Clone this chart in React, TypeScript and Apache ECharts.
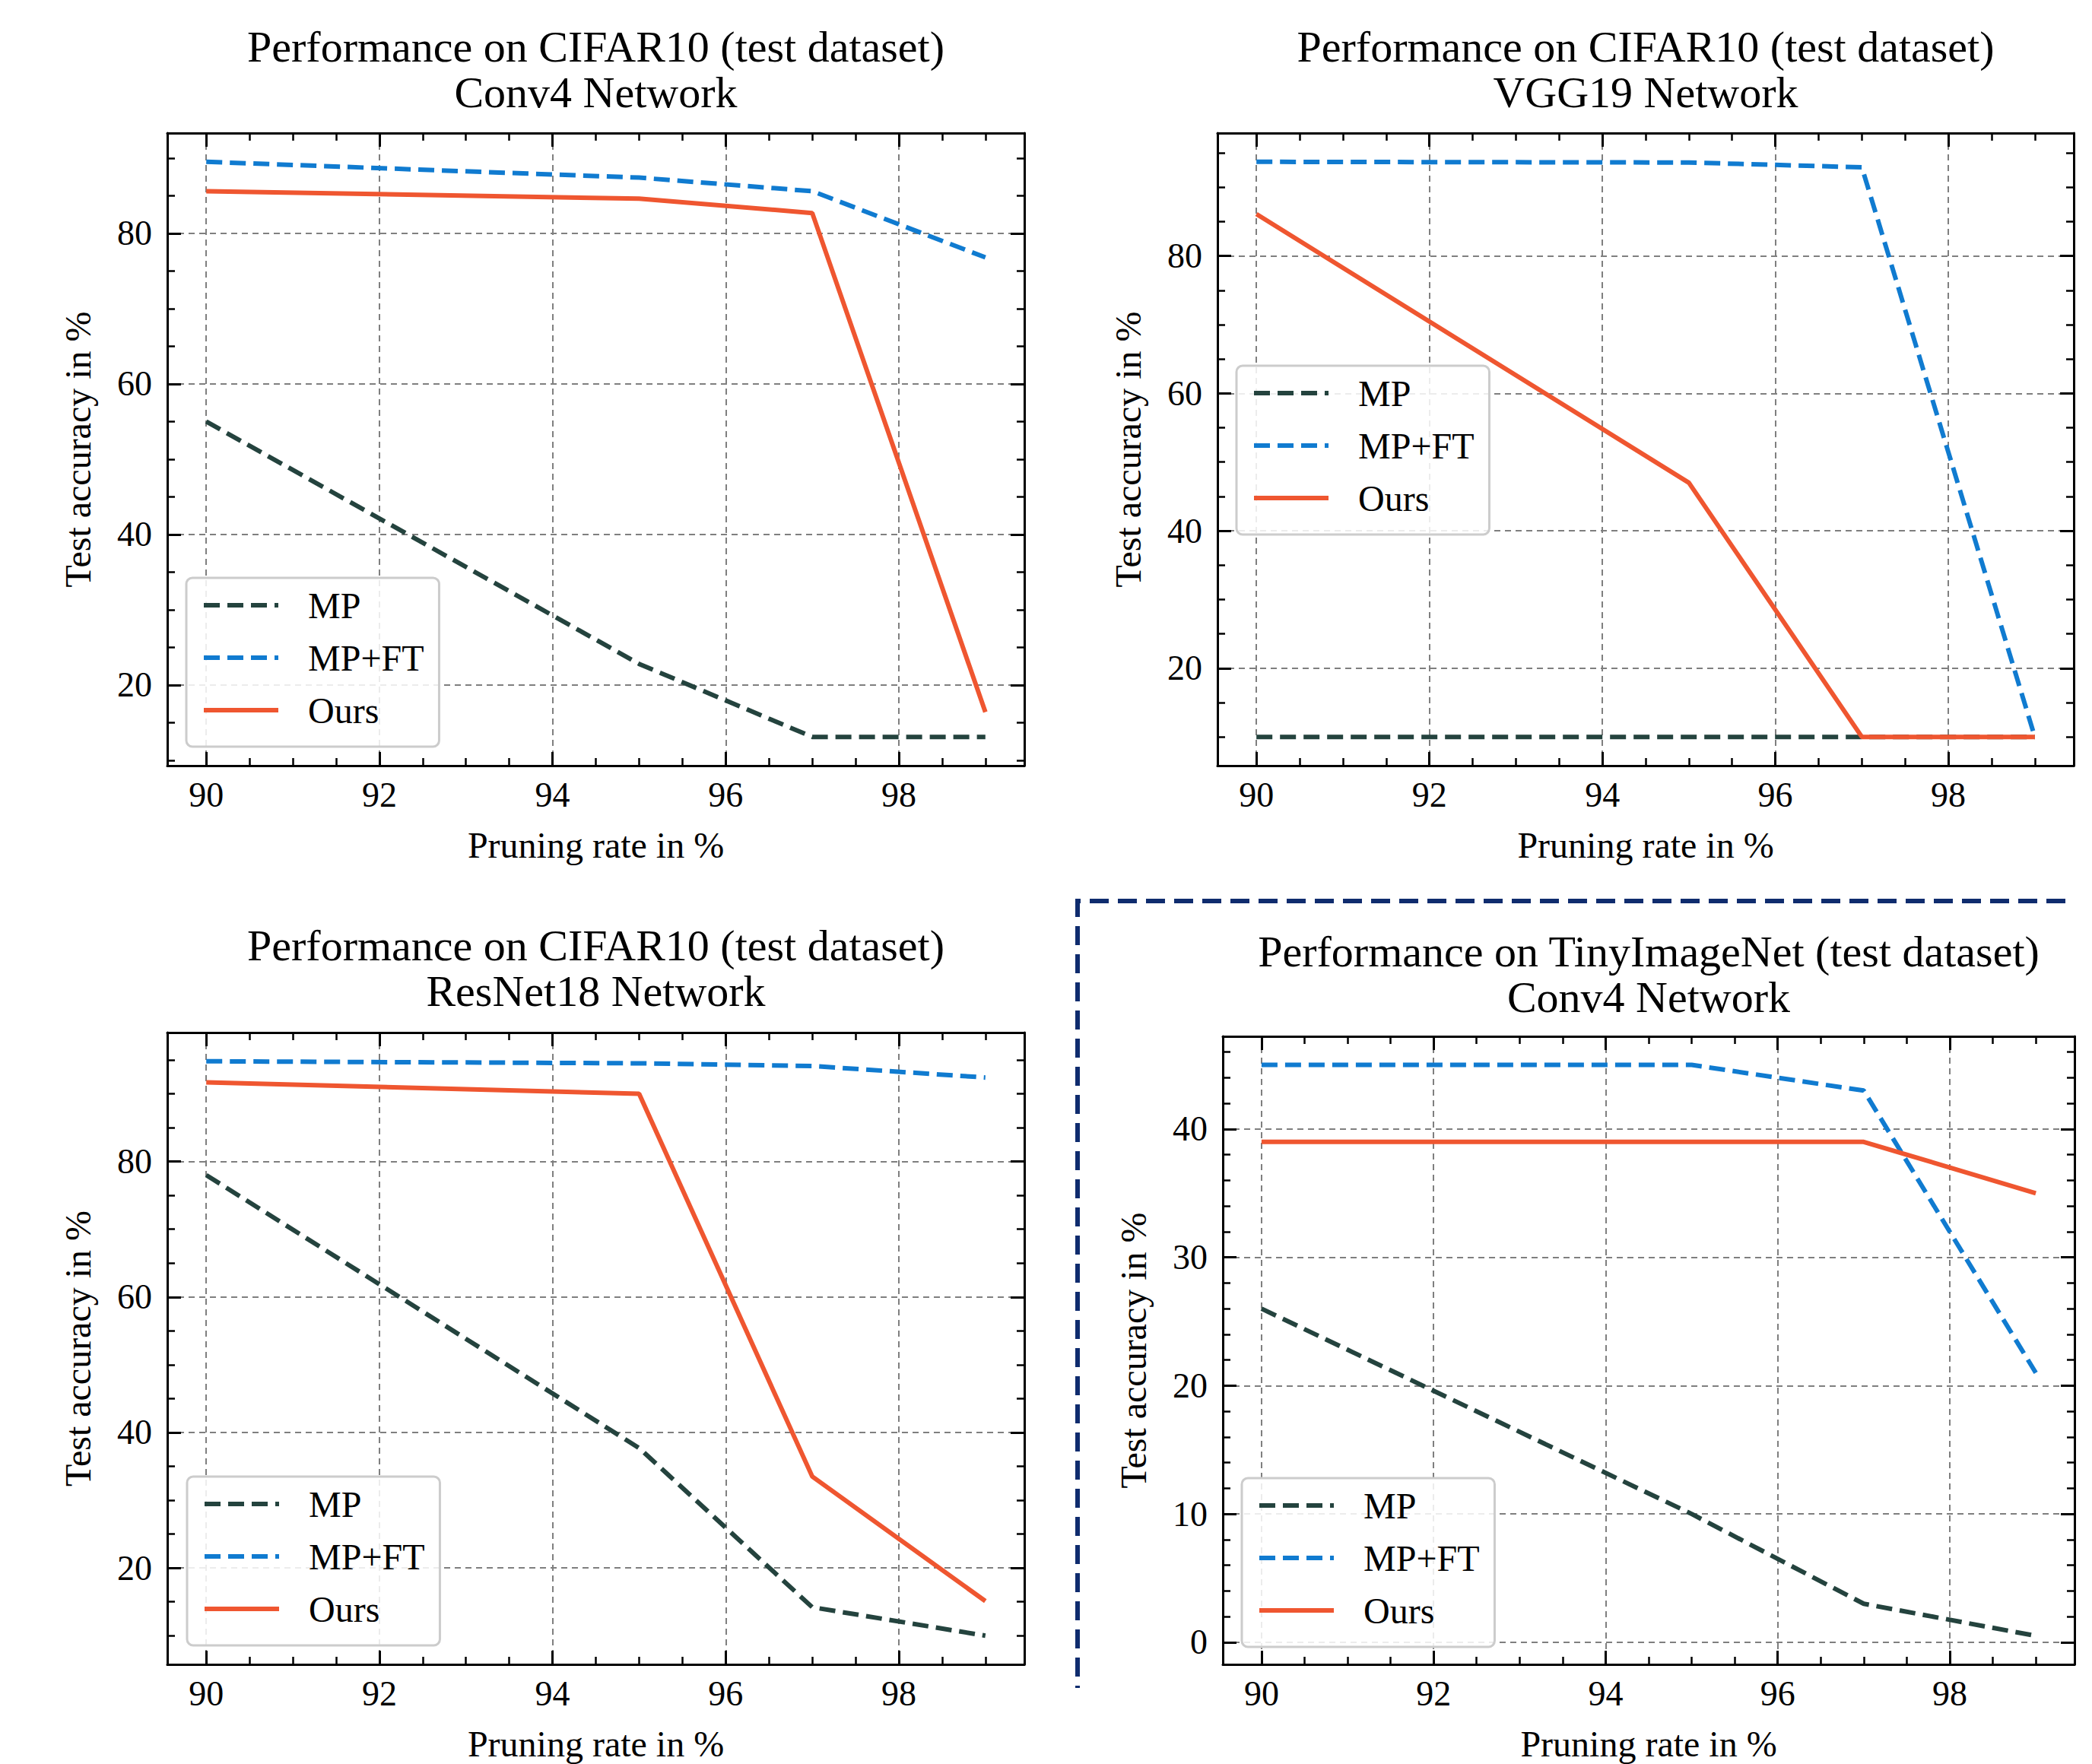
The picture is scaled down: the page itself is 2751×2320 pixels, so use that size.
import React, { useEffect, useRef } from 'react';
import * as echarts from 'echarts';

// ---------- data ----------
const PRUNING_RATES = [90, 95, 97, 99];
const SERIES_NAMES = ['MP', 'MP+FT', 'Ours'];

const CONV4_CIFAR_MP = [55.0, 22.8, 13.1, 13.1];
const CONV4_CIFAR_MPFT = [89.5, 87.4, 85.6, 76.8];
const CONV4_CIFAR_OURS = [85.6, 84.6, 82.7, 16.4];

const VGG19_CIFAR_MP = [10.0, 10.0, 10.0, 10.0];
const VGG19_CIFAR_MPFT = [93.7, 93.6, 92.9, 10.0];
const VGG19_CIFAR_OURS = [86.1, 47.0, 10.0, 10.0];

const RESNET18_CIFAR_MP = [78.0, 37.7, 14.2, 10.0];
const RESNET18_CIFAR_MPFT = [94.8, 94.5, 94.1, 92.4];
const RESNET18_CIFAR_OURS = [91.7, 90.0, 33.5, 15.1];

const CONV4_TINY_MP = [26.0, 10.0, 3.0, 0.5];
const CONV4_TINY_MPFT = [45.0, 45.0, 43.0, 21.0];
const CONV4_TINY_OURS = [39.0, 39.0, 39.0, 35.0];

const TITLES = [
  'Performance on CIFAR10 (test dataset)\nConv4 Network',
  'Performance on CIFAR10 (test dataset)\nVGG19 Network',
  'Performance on CIFAR10 (test dataset)\nResNet18 Network',
  'Performance on TinyImageNet (test dataset)\nConv4 Network',
];
const X_LABEL = 'Pruning rate in %';
const Y_LABEL = 'Test accuracy in %';
const X_TICK_STEP = 2;
const Y_TICK_STEPS = [20, 20, 20, 10];
const Y_MINOR_SPLITS = [4, 4, 4, 5];

// ---------- styles ----------
const FONT = "'Liberation Serif', 'Times New Roman', Times, serif";
const COLORS = ['#24433e', '#107bd0', '#ef5630'];
const DASHES: (number[] | 'solid')[] = [[21, 10], [21, 10], 'solid'];

const LAYOUT = [
  { grid: { left: 220, top: 175, width: 1127, height: 832 }, titleTop: 31, legend: { left: 245, top: 760 } },
  { grid: { left: 1601, top: 175, width: 1126, height: 832 }, titleTop: 31, legend: { left: 1626, top: 481 } },
  { grid: { left: 220, top: 1358, width: 1127, height: 831 }, titleTop: 1213, legend: { left: 246, top: 1942 } },
  { grid: { left: 1608, top: 1363, width: 1120, height: 826 }, titleTop: 1221, legend: { left: 1633, top: 1944 } },
];

const PANEL_DATA = [
  [CONV4_CIFAR_MP, CONV4_CIFAR_MPFT, CONV4_CIFAR_OURS],
  [VGG19_CIFAR_MP, VGG19_CIFAR_MPFT, VGG19_CIFAR_OURS],
  [RESNET18_CIFAR_MP, RESNET18_CIFAR_MPFT, RESNET18_CIFAR_OURS],
  [CONV4_TINY_MP, CONV4_TINY_MPFT, CONV4_TINY_OURS],
];

function margins(values: number[]): [number, number] {
  const lo = Math.min(...values);
  const hi = Math.max(...values);
  const pad = (hi - lo) * 0.05;
  return [lo - pad, hi + pad];
}

function multipleFormatter(step: number) {
  return (v: number) => {
    const k = Math.round(v / step);
    return Math.abs(v - k * step) < 1e-6 ? String(k * step) : '';
  };
}

function buildOption() {
  const grids: any[] = [];
  const xAxes: any[] = [];
  const yAxes: any[] = [];
  const series: any[] = [];
  const titles: any[] = [];
  const legends: any[] = [];

  const xr = margins(PRUNING_RATES);

  const tickCommon = {
    axisLine: { show: true, onZero: false, lineStyle: { color: '#000', width: 3 } },
    axisTick: { show: true, inside: true, length: 18, lineStyle: { color: '#000', width: 3 } },
  };

  PANEL_DATA.forEach((panel, i) => {
    const lay = LAYOUT[i];
    grids.push({ ...lay.grid, containLabel: false });
    const yr = margins(panel.flat());
    const ystep = Y_TICK_STEPS[i];

    const xBase = {
      type: 'value', gridIndex: i, min: xr[0], max: xr[1],
      minInterval: X_TICK_STEP, maxInterval: X_TICK_STEP,
      ...tickCommon,
      minorTick: { show: true, splitNumber: 4, length: 10, lineStyle: { color: '#000', width: 2.5 } },
    };
    xAxes.push({
      ...xBase, position: 'bottom',
      axisLabel: { show: true, color: '#000', fontFamily: FONT, fontSize: 46, margin: 15, formatter: multipleFormatter(X_TICK_STEP) },
      splitLine: { show: true, lineStyle: { color: '#7f7f7f', width: 2, type: [8, 6] } },
      name: X_LABEL, nameLocation: 'middle', nameGap: 80,
      nameTextStyle: { color: '#000', fontFamily: FONT, fontSize: 48 },
    });
    xAxes.push({
      ...xBase, position: 'top',
      axisLabel: { show: false }, splitLine: { show: false },
    });

    const yBase = {
      type: 'value', gridIndex: i, min: yr[0], max: yr[1],
      minInterval: ystep, maxInterval: ystep,
      ...tickCommon,
      minorTick: { show: true, splitNumber: Y_MINOR_SPLITS[i], length: 10, lineStyle: { color: '#000', width: 2.5 } },
    };
    yAxes.push({
      ...yBase, position: 'left',
      axisLabel: { show: true, color: '#000', fontFamily: FONT, fontSize: 46, margin: 20, formatter: multipleFormatter(ystep) },
      splitLine: { show: true, lineStyle: { color: '#7f7f7f', width: 2, type: [8, 6] } },
      name: Y_LABEL, nameLocation: 'middle', nameGap: 94,
      nameTextStyle: { color: '#000', fontFamily: FONT, fontSize: 48 },
    });
    yAxes.push({
      ...yBase, position: 'right',
      axisLabel: { show: false }, splitLine: { show: false },
    });

    panel.forEach((vals, s) => {
      series.push({
        type: 'line',
        name: SERIES_NAMES[s],
        xAxisIndex: i * 2,
        yAxisIndex: i * 2,
        data: PRUNING_RATES.map((x, k) => [x, vals[k]]),
        symbol: 'none',
        z: 3 + s,
        lineStyle: { color: COLORS[s], width: 6, type: DASHES[s], cap: 'butt' },
        itemStyle: { color: COLORS[s] },
      });
    });

    titles.push({
      text: TITLES[i],
      left: lay.grid.left + lay.grid.width / 2,
      top: lay.titleTop,
      textAlign: 'center',
      padding: 0,
      textStyle: { color: '#000', fontFamily: FONT, fontSize: 58, fontWeight: 'normal', lineHeight: 60 },
    });

    legends.push({
      data: SERIES_NAMES,
      orient: 'vertical',
      left: lay.legend.left,
      top: lay.legend.top,
      z: 20,
      padding: [12, 20, 24, 20],
      itemGap: 21,
      itemWidth: 98,
      itemHeight: 48,
      backgroundColor: 'rgba(255,255,255,0.85)',
      borderColor: '#cccccc',
      borderWidth: 3,
      borderRadius: 8,
      selectedMode: false,
      itemStyle: { opacity: 0 },
      lineStyle: { width: 6, type: 'inherit', color: 'inherit' },
      textStyle: { color: '#000', fontFamily: FONT, fontSize: 48, lineHeight: 48, padding: [0, 0, 0, 34] },
    });
  });

  return {
    animation: false,
    backgroundColor: '#ffffff',
    title: titles,
    legend: legends,
    grid: grids,
    xAxis: xAxes,
    yAxis: yAxes,
    series,
    graphic: [
      {
        type: 'polyline',
        z: 50,
        shape: { points: [[2716, 1185], [1417, 1185], [1417, 2220]] },
        style: { stroke: '#0f2c6e', lineWidth: 6, lineDash: [25, 12], fill: null },
      },
    ],
  };
}

export default function App() {
  const ref = useRef<HTMLDivElement>(null);
  useEffect(() => {
    if (!ref.current) return;
    const chart = echarts.init(ref.current, undefined, { renderer: 'svg' });
    chart.setOption(buildOption() as any);
    return () => chart.dispose();
  }, []);
  return (
    <div
      ref={ref}
      style={{ position: 'absolute', left: 0, top: 0, width: 2751, height: 2320, background: '#fff' }}
    />
  );
}
